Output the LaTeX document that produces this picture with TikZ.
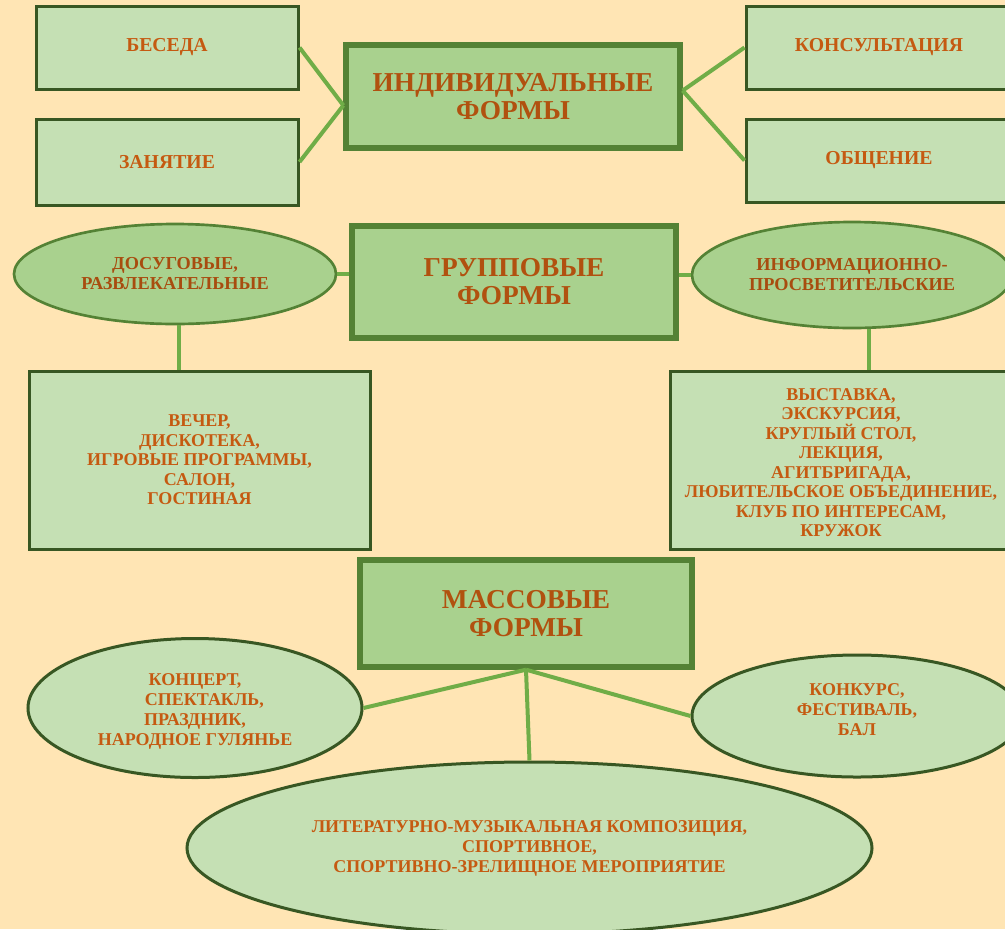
\documentclass[tikz,border=0pt]{standalone}
\usepackage{fontspec}
\setmainfont{Liberation Serif}
\usetikzlibrary{shapes.geometric}

\definecolor{peach}{RGB}{255,229,180}
\definecolor{palegreen}{RGB}{197,224,180}
\definecolor{midgreen}{RGB}{169,209,142}
\definecolor{darkgreen}{RGB}{56,87,35}
\definecolor{framegreen}{RGB}{84,130,53}
\definecolor{linkgreen}{RGB}{112,173,71}
\definecolor{rust}{RGB}{197,90,17}

\tikzset{every picture/.style={line width=0.75pt}}
\tikzset{
  formbox/.style={rectangle, draw=darkgreen, line width=2.25pt, fill=palegreen, inner sep=0pt, align=center, text=rust, font=\bfseries\fontsize{14.8}{16}\selectfont},
  listbox/.style={formbox, font=\bfseries\fontsize{13.5}{14.6}\selectfont},
  mainbox/.style={rectangle, draw=framegreen, line width=4pt, fill=midgreen, inner sep=0pt, align=center, text=rust!90!black, font=\bfseries\fontsize{20.5}{21}\selectfont},
  kindoval/.style={ellipse, draw=framegreen, line width=2pt, fill=midgreen, inner sep=0pt, align=center, text=rust!85!black, font=\bfseries\fontsize{13.7}{15}\selectfont},
  eventoval/.style={ellipse, draw=darkgreen, line width=2.25pt, fill=palegreen, inner sep=0pt, align=center, text=rust, font=\bfseries\fontsize{13.5}{15}\selectfont},
  link/.style={draw=linkgreen, line width=3pt}
}

\begin{document}
\begin{tikzpicture}[x=0.75pt,y=0.75pt,yscale=-1,xscale=1]
\useasboundingbox (0,0) rectangle (1005,929);
\clip (0,0) rectangle (1005,929);
\fill[peach] (0,0) rectangle (1005,929);

%Individual forms
\node[mainbox, minimum width=250.5pt, minimum height=77.25pt] (indiv) at (513,96.5) {ИНДИВИДУАЛЬНЫЕ\\ФОРМЫ};
\node[formbox, minimum width=196.5pt, minimum height=62.25pt] (beseda) at (167,47.5) {БЕСЕДА};
\node[formbox, minimum width=196.5pt, minimum height=64.5pt] (zanyatie) at (167,162) {ЗАНЯТИЕ};
\node[formbox, minimum width=199.5pt, minimum height=62.25pt] (konsult) at (879,47.5) {КОНСУЛЬТАЦИЯ};
\node[formbox, minimum width=199.5pt, minimum height=62.25pt] (obshch) at (879,160.5) {ОБЩЕНИЕ};

%Group forms
\node[mainbox, minimum width=243pt, minimum height=84pt] (group) at (514,282) {ГРУППОВЫЕ\\ФОРМЫ};
\node[kindoval, minimum width=241.5pt, minimum height=75pt] (dosug) at (175,274) {ДОСУГОВЫЕ,\\РАЗВЛЕКАТЕЛЬНЫЕ};
\node[kindoval, minimum width=240pt, minimum height=79.5pt] (inform) at (852,275) {ИНФОРМАЦИОННО-\\ПРОСВЕТИТЕЛЬСКИЕ};
\node[listbox, minimum width=255.75pt, minimum height=133.5pt] (leftlist) at (199.5,460) {ВЕЧЕР,\\ДИСКОТЕКА,\\ИГРОВЫЕ ПРОГРАММЫ,\\САЛОН,\\ГОСТИНАЯ};
\node[listbox, minimum width=256.5pt, minimum height=133.5pt] (rightlist) at (841,460) {\rule{0pt}{13pt}ВЫСТАВКА,\\ЭКСКУРСИЯ,\\КРУГЛЫЙ СТОЛ,\\ЛЕКЦИЯ,\\АГИТБРИГАДА,\\ЛЮБИТЕЛЬСКОЕ ОБЪЕДИНЕНИЕ,\\КЛУБ ПО ИНТЕРЕСАМ,\\КРУЖОК};

%Mass forms
\node[mainbox, minimum width=249pt, minimum height=80.25pt] (mass) at (526,613.5) {МАССОВЫЕ\\ФОРМЫ};
\node[eventoval, minimum width=250.5pt, minimum height=104.25pt] (concert) at (195,708) {\rule{0pt}{14pt}КОНЦЕРТ,\\\hspace*{14pt}СПЕКТАКЛЬ,\\ПРАЗДНИК,\\НАРОДНОЕ ГУЛЯНЬЕ};
\node[eventoval, minimum width=247.5pt, minimum height=91.5pt] (konkurs) at (857,716) {КОНКУРС,\\ФЕСТИВАЛЬ,\\БАЛ\rule[-9pt]{0pt}{9pt}};
\node[eventoval, minimum width=513.75pt, minimum height=129pt] (litmus) at (529.5,848) {ЛИТЕРАТУРНО-МУЗЫКАЛЬНАЯ КОМПОЗИЦИЯ,\\СПОРТИВНОЕ,\\СПОРТИВНО-ЗРЕЛИЩНОЕ МЕРОПРИЯТИЕ};

%Connectors
\draw[link] (beseda.east) -- (indiv.183);
\draw[link] (zanyatie.east) -- (indiv.183);
\draw[link] (indiv.2) -- (konsult.west);
\draw[link] (indiv.2) -- (obshch.west);
\draw[link] (dosug.east) -- (dosug.east -| group.west);
\draw[link] (group.east |- inform.west) -- (inform.west);
\draw[link] ([xshift=3pt]dosug.south) -- ([xshift=3pt]dosug.south |- leftlist.north);
\draw[link] ([xshift=13pt]inform.south) -- ([xshift=13pt]inform.south |- rightlist.north);
\draw[link] (mass.south) -- (concert.east);
\draw[link] (mass.south) -- (konkurs.west);
\draw[link] (mass.south) -- (litmus.north);

\end{tikzpicture}
\end{document}
